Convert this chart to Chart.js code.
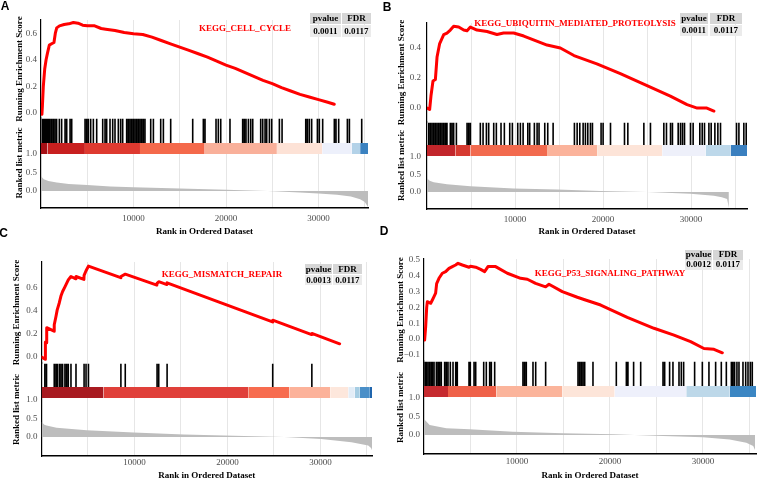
<!DOCTYPE html>
<html>
<head>
    <title>GSEA KEGG enrichment plots</title>
    <script src="https://cdn.jsdelivr.net/npm/chart.js"></script>
    <style>
        body { margin: 0; background: #fff; }
        #page { position: relative; width: 758px; height: 481px; overflow: hidden; background: #fff; }
        .panel { position: absolute; }
        .tag { position: absolute; font: bold 12px "Liberation Sans", Arial, sans-serif; line-height: 1; color: #000; transform: translate(-50%, -50%); }
        .set { position: absolute; font: bold 9px "Liberation Serif", serif; line-height: 1; color: #ff0000; white-space: nowrap; transform: translate(-50%, -50%); }
        .cell { position: absolute; display: flex; align-items: center; justify-content: center; font: bold 9px "Liberation Serif", serif; line-height: 1; color: #000; white-space: nowrap; overflow: hidden; }
    </style>
</head>
<body>
<div id="page"></div>
<script>
    // axis ticks shared by the four plots
    const xGrid = [5000, 10000, 15000, 20000, 25000, 30000, 35000];
    const xLabels = [10000, 20000, 30000];
    const rankTicks = [0, 0.5, 1];

    const geneSets = ['KEGG_CELL_CYCLE', 'KEGG_UBIQUITIN_MEDIATED_PROTEOLYSIS', 'KEGG_MISMATCH_REPAIR', 'KEGG_P53_SIGNALING_PATHWAY'];
    const pvalues = ['0.0011', '0.0011', '0.0013', '0.0012'];
    const fdrs = ['0.0117', '0.0117', '0.0117', '0.0117'];

    // A - cell cycle
    const esTicksA = [0, 0.2, 0.4, 0.6];
    const esA = [[0, 0], [100, -0.01], [150, 0.05], [250, 0.2], [400, 0.33], [550, 0.4], [700, 0.45], [900, 0.51], [1150, 0.52], [1400, 0.53], [1550, 0.6], [1700, 0.64], [2000, 0.655], [2500, 0.665], [3000, 0.67], [3500, 0.68], [4000, 0.675], [4500, 0.66], [5000, 0.655], [5800, 0.655], [6500, 0.635], [7000, 0.63], [8000, 0.62], [9000, 0.605], [10000, 0.595], [11000, 0.59], [12000, 0.57], [13000, 0.545], [14000, 0.52], [15000, 0.495], [16000, 0.47], [17000, 0.445], [18000, 0.42], [19000, 0.39], [20000, 0.36], [21000, 0.335], [22000, 0.305], [23000, 0.275], [24000, 0.245], [25000, 0.22], [26000, 0.19], [27000, 0.165], [28000, 0.14], [29000, 0.12], [30000, 0.1], [31000, 0.08], [31700, 0.065]];
    const hitsA = [140, 250, 360, 470, 610, 720, 860, 970, 1150, 1330, 1510, 1690, 1980, 2230, 2600, 2780, 3140, 3320, 4760, 4940, 5120, 5370, 5660, 6020, 6670, 6920, 7100, 7460, 7750, 8000, 8360, 8610, 8830, 9260, 9440, 9620, 9800, 9980, 10160, 10340, 10520, 10700, 10880, 11060, 11240, 11860, 12150, 12940, 13230, 14020, 16400, 17550, 17730, 18920, 19170, 19430, 20430, 21800, 21980, 22160, 22420, 22670, 22890, 23750, 23970, 24220, 24400, 24690, 24940, 25770, 26060, 28620, 28800, 29010, 29260, 29880, 30090, 30450, 31710, 31890, 32180, 33120, 33340, 34670];
    const metricA = [[0, 0.4], [300, 0.32], [800, 0.27], [1700, 0.23], [3000, 0.19], [5000, 0.16], [7500, 0.12], [10000, 0.1], [15000, 0.065], [20000, 0.035], [24500, 0], [28000, -0.04], [30000, -0.07], [32000, -0.1], [33500, -0.15], [34500, -0.22], [35000, -0.3], [35350, -0.43]];
    const stripeA = [0, 700, 4750, 10700, 17700, 25500, 30400, 33600, 34500, 35350];
    const stripeColorsA = ['#a50f15', '#c8201f', '#de3a30', '#f4694b', '#f9b09a', '#fde2d6', '#edf0fb', '#b3d2e8', '#3b82c0'];

    // B - ubiquitin mediated proteolysis
    const esTicksB = [0, 0.2, 0.4];
    const esB = [[0, 0], [300, -0.01], [450, 0.08], [680, 0.18], [950, 0.19], [1140, 0.34], [1440, 0.43], [1900, 0.49], [2270, 0.5], [2650, 0.52], [3030, 0.545], [3600, 0.54], [4170, 0.52], [4550, 0.515], [4930, 0.54], [5680, 0.52], [6820, 0.51], [7950, 0.49], [8700, 0.5], [9850, 0.5], [11000, 0.48], [12100, 0.455], [13640, 0.42], [15150, 0.4], [16700, 0.35], [19300, 0.295], [21970, 0.23], [25000, 0.15], [27650, 0.08], [29550, 0.023], [30700, 0], [31800, 0], [32600, -0.02]];
    const hitsB = [190, 380, 570, 760, 950, 1140, 1330, 1520, 1710, 1900, 2090, 2270, 2650, 2840, 3030, 3340, 4550, 4740, 4930, 6060, 6370, 6750, 7010, 7580, 7880, 8410, 8790, 9400, 9700, 10310, 10610, 10920, 11450, 11670, 12200, 12510, 12730, 13380, 13720, 14330, 16750, 17060, 17360, 17740, 18000, 18270, 18570, 18800, 19780, 20010, 20850, 22440, 22820, 24640, 25390, 26910, 27210, 27670, 27890, 28540, 28800, 29030, 29260, 29940, 30240, 31000, 31270, 31530, 32030, 32290, 32710, 33050, 33350, 35170, 35440, 36000, 36270];
    const metricB = [[0, 0.39], [300, 0.32], [760, 0.28], [2270, 0.22], [4930, 0.165], [9850, 0.1], [14780, 0.07], [19710, 0.03], [25000, 0], [29940, -0.05], [32600, -0.11], [33500, -0.15], [34100, -0.2], [34300, -0.46]];
    const stripeB = [0, 3220, 4930, 13640, 19330, 26720, 31650, 34490, 36360];
    const stripeColorsB = ['#c2262b', '#d63a31', '#f26a4e', '#fbb39b', '#fde4d8', '#eef0fa', '#bdd8ea', '#3a7fbf'];

    // C - mismatch repair
    const esTicksC = [0, 0.2, 0.4, 0.6];
    const esC = [[0, 0], [400, -0.02], [420, 0.13], [540, 0.125], [560, 0.255], [1350, 0.225], [1370, 0.28], [1550, 0.35], [1690, 0.41], [1910, 0.47], [2090, 0.53], [2270, 0.57], [2520, 0.61], [2700, 0.64], [2880, 0.67], [3170, 0.7], [3690, 0.68], [3710, 0.7], [4560, 0.675], [4580, 0.71], [4790, 0.75], [5050, 0.79], [8520, 0.69], [8540, 0.7], [9010, 0.72], [12410, 0.625], [12430, 0.64], [12610, 0.655], [13490, 0.63], [13510, 0.645], [24850, 0.305], [24870, 0.32], [29060, 0.195], [29080, 0.205], [32070, 0.115]];
    const hitsC = [360, 540, 1370, 1550, 1690, 1910, 2090, 2270, 2520, 2700, 2880, 3170, 3710, 4580, 4790, 5050, 8540, 9010, 12430, 12610, 13510, 24870, 29080];
    const metricC = [[0, 0.41], [300, 0.33], [540, 0.31], [1620, 0.25], [4870, 0.18], [9910, 0.12], [15320, 0.07], [20720, 0.036], [26130, 0], [30090, -0.055], [33340, -0.14], [35140, -0.23], [35450, -0.3], [35550, -0.36]];
    const stripeC = [0, 6670, 22240, 26670, 31070, 33000, 33700, 34240, 35320, 35550];
    const stripeColorsC = ['#a81a20', '#e0403a', '#f76c4f', '#fcb29a', '#fde7dc', '#e3edf7', '#a6cde3', '#4a8fc8', '#1f65ad'];

    // D - p53 signaling pathway
    const esTicksD = [-0.1, 0, 0.1, 0.2, 0.3, 0.4, 0.5];
    const esD = [[0, 0], [70, -0.006], [180, 0.078], [290, 0.2], [360, 0.236], [720, 0.226], [900, 0.247], [1075, 0.268], [1250, 0.29], [1360, 0.35], [1610, 0.384], [1970, 0.416], [2330, 0.426], [2690, 0.447], [3050, 0.458], [3400, 0.468], [3660, 0.479], [4120, 0.468], [4840, 0.454], [5000, 0.46], [5560, 0.454], [6090, 0.44], [6520, 0.426], [6880, 0.458], [7700, 0.458], [8960, 0.416], [10390, 0.384], [11110, 0.378], [12000, 0.352], [13080, 0.33], [13440, 0.346], [14870, 0.3], [16490, 0.264], [17200, 0.25], [19000, 0.215], [21860, 0.137], [24730, 0.068], [26880, 0.025], [28670, -0.017], [30100, -0.06], [31180, -0.065], [32080, -0.087]];
    const hitsD = [110, 250, 430, 610, 790, 900, 1080, 1330, 1510, 1680, 1860, 2220, 2400, 2580, 2830, 3120, 3410, 3580, 4840, 4980, 5380, 5560, 6420, 6700, 7060, 7240, 7600, 10640, 10820, 11000, 11720, 12010, 13080, 16560, 16740, 16920, 17100, 17280, 18170, 20680, 21760, 21930, 22540, 23300, 25700, 25880, 26410, 26770, 27420, 27670, 27920, 29100, 29930, 30640, 31360, 31970, 32510, 33050, 33220, 33400, 33650, 33870, 34300, 34590, 34840, 35090, 35300];
    const metricD = [[0, 0.42], [72, 0.41], [609, 0.27], [2400, 0.18], [4910, 0.155], [9570, 0.09], [14950, 0.045], [20320, 0.018], [25700, -0.027], [30000, -0.064], [32860, -0.12], [34660, -0.21], [35400, -0.3], [35600, -0.41]];
    const stripeD = [0, 2580, 7780, 14870, 20500, 28200, 32860, 35700];
    const stripeColorsD = ['#c62a2f', '#ef6149', '#fbb49b', '#fde5d9', '#eef0fb', '#bdd8e9', '#3b86c3'];

    const serif = 'Liberation Serif';
    const page = document.getElementById('page');

    const panels = [
        { tag: 'A', tagAt: [5, 6], left: 0, top: 0, w: 379, h: 242, padT: 20, padR: 11, yW: 41, xH: 34, esH: 98, rH: 90,
          xMax: 35350, esMin: -0.038, esMax: 0.699, rMin: -0.459, rMax: 1.973, barLo: 1.0, barHi: 1.297, hitHi: 1.95,
          yTitlePad: 14, yTickPad: 4, xTickPad: 5, xTitlePad: 4.5,
          es: esA, hits: hitsA, metric: metricA, stripes: stripeA, stripeColors: stripeColorsA, esTicks: esTicksA,
          k: 0, titleAt: [245, 27.5], cellX: [310, 342], cellW: [31, 29], rowY: [13, 25], rowH: [11, 12] },
        { tag: 'B', tagAt: [387, 6.5], left: 380, top: 0, w: 378, h: 242, padT: 23, padR: 11, yW: 47, xH: 33, esH: 99, rH: 87,
          xMax: 36360, esMin: -0.093, esMax: 0.567, rMin: -0.486, rMax: 2.0, barLo: 1.03, barHi: 1.343, hitHi: 1.98,
          yTitlePad: 16.5, yTickPad: 6, xTickPad: 5.5, xTitlePad: 4.5,
          es: esB, hits: hitsB, metric: metricB, stripes: stripeB, stripeColors: stripeColorsB, esTicks: esTicksB,
          k: 1, titleAt: [575, 23], cellX: [680, 710], cellW: [28, 32], rowY: [13, 25], rowH: [11, 11] },
        { tag: 'C', tagAt: [3.5, 233], left: 0, top: 242, w: 379, h: 239, padT: 20, padR: 7, yW: 41.5, xH: 25, esH: 101, rH: 93,
          xMax: 35550, esMin: -0.052, esMax: 0.826, rMin: -0.514, rMax: 2.0, barLo: 1.054, barHi: 1.351, hitHi: 1.98,
          yTitlePad: 11.5, yTickPad: 4, xTickPad: 1, xTitlePad: 0,
          es: esC, hits: hitsC, metric: metricC, stripes: stripeC, stripeColors: stripeColorsC, esTicks: esTicksC,
          k: 2, titleAt: [222, 274], cellX: [305, 333], cellW: [27, 29], rowY: [264, 275], rowH: [10, 10] },
        { tag: 'D', tagAt: [384, 231], left: 380, top: 242, w: 378, h: 239, padT: 17, padR: 2, yW: 44, xH: 27, esH: 102, rH: 93,
          xMax: 35700, esMin: -0.139, esMax: 0.506, rMin: -0.514, rMax: 2.0, barLo: 1.027, barHi: 1.324, hitHi: 1.98,
          yTitlePad: 15, yTickPad: 4, xTickPad: 2.5, xTitlePad: 0,
          es: esD, hits: hitsD, metric: metricD, stripes: stripeD, stripeColors: stripeColorsD, esTicks: esTicksD,
          k: 3, titleAt: [610, 272.5], cellX: [685, 713], cellW: [27, 30], rowY: [250, 260], rowH: [9.5, 9.5] }
    ];

    function pts(pairs) {
        return pairs.map(d => ({ x: d[0], y: d[1] }));
    }
    function fmt(v) {
        return v < 0 ? '\u2212' + Math.abs(v).toFixed(1) : v.toFixed(1);
    }
    function addText(cls, x, y, text) {
        const d = document.createElement('div');
        d.className = cls;
        d.style.left = x + 'px';
        d.style.top = y + 'px';
        d.textContent = text;
        page.appendChild(d);
    }
    function addCell(x, y, w, h, text, bg) {
        const d = document.createElement('div');
        d.className = 'cell';
        d.style.left = x + 'px';
        d.style.top = y + 'px';
        d.style.width = w + 'px';
        d.style.height = h + 'px';
        d.style.background = bg;
        d.textContent = text;
        page.appendChild(d);
    }

    function drawPanel(p) {
        const box = document.createElement('div');
        box.className = 'panel';
        box.style.left = p.left + 'px';
        box.style.top = p.top + 'px';
        const cv = document.createElement('canvas');
        cv.width = p.w;
        cv.height = p.h;
        box.appendChild(cv);
        page.appendChild(box);

        const datasets = [{
            data: pts(p.es), yAxisID: 'yES', borderColor: '#ff0000', borderWidth: 3,
            borderJoinStyle: 'round', borderCapStyle: 'round', pointRadius: 0, fill: false
        }];
        const hitPts = [];
        p.hits.forEach(r => hitPts.push({ x: r, y: p.barHi }, { x: r, y: p.hitHi }, { x: r, y: null }));
        datasets.push({ data: hitPts, yAxisID: 'yR', borderColor: '#000', borderWidth: 1.6, pointRadius: 0, fill: false, spanGaps: false });
        p.stripeColors.forEach((c, i) => {
            datasets.push({
                data: [{ x: p.stripes[i], y: p.barHi }, { x: p.stripes[i + 1], y: p.barHi }],
                yAxisID: 'yR', borderColor: 'rgba(0,0,0,0)', borderWidth: 0, backgroundColor: c,
                pointRadius: 0, fill: { value: p.barLo }
            });
        });
        datasets.push({
            data: pts(p.metric), yAxisID: 'yR', borderColor: 'rgba(0,0,0,0)', borderWidth: 0,
            backgroundColor: '#bdbdbd', pointRadius: 0, fill: { value: 0 }
        });

        const tickFont = { family: serif, size: 9 };
        const titleFont = { family: serif, size: 9, weight: 'bold' };

        new Chart(cv, {
            type: 'line',
            data: { datasets: datasets },
            options: {
                responsive: false,
                animation: false,
                events: [],
                layout: { autoPadding: false, padding: { left: 0, right: p.padR, top: p.padT, bottom: 0 } },
                plugins: { legend: { display: false }, tooltip: { enabled: false } },
                scales: {
                    x: {
                        type: 'linear', min: 0, max: p.xMax,
                        afterBuildTicks: s => { s.ticks = xGrid.map(v => ({ value: v })); },
                        afterFit: s => { s.height = p.xH; },
                        grid: { color: '#e6e6e6', lineWidth: 1, drawTicks: false },
                        border: { display: true, color: '#000', width: 1.5 },
                        ticks: {
                            padding: p.xTickPad, maxRotation: 0, autoSkip: false, font: tickFont, color: '#4d4d4d',
                            callback: v => xLabels.includes(v) ? String(v) : ''
                        },
                        title: { display: true, text: 'Rank in Ordered Dataset', font: titleFont, color: '#000', padding: { top: 0, bottom: p.xTitlePad } }
                    },
                    yES: {
                        type: 'linear', position: 'left', stack: 'gsea', stackWeight: p.esH, weight: 2,
                        min: p.esMin, max: p.esMax,
                        afterBuildTicks: s => { s.ticks = p.esTicks.map(v => ({ value: v })); },
                        afterFit: s => { s.width = p.yW; },
                        grid: { display: false, drawTicks: false },
                        border: { display: true, color: '#000', width: 1.2 },
                        ticks: { padding: p.yTickPad, autoSkip: false, font: tickFont, color: '#4d4d4d', callback: v => fmt(v) },
                        title: { display: true, text: 'Running Enrichment Score', font: titleFont, color: '#000', padding: { top: p.yTitlePad, bottom: 0 } }
                    },
                    yR: {
                        type: 'linear', position: 'left', stack: 'gsea', stackWeight: p.rH, weight: 1,
                        min: p.rMin, max: p.rMax,
                        afterBuildTicks: s => { s.ticks = rankTicks.map(v => ({ value: v })); },
                        afterFit: s => { s.width = p.yW; },
                        grid: { display: false, drawTicks: false },
                        border: { display: true, color: '#000', width: 1.2 },
                        ticks: { padding: p.yTickPad, autoSkip: false, font: tickFont, color: '#4d4d4d', callback: v => fmt(v) },
                        title: { display: true, text: 'Ranked list metric', font: titleFont, color: '#000', padding: { top: p.yTitlePad, bottom: 0 } }
                    }
                }
            }
        });

        addText('set', p.titleAt[0], p.titleAt[1], geneSets[p.k]);
        addCell(p.cellX[0], p.rowY[0], p.cellW[0], p.rowH[0], 'pvalue', '#d6d6d6');
        addCell(p.cellX[1], p.rowY[0], p.cellW[1], p.rowH[0], 'FDR', '#d6d6d6');
        addCell(p.cellX[0], p.rowY[1], p.cellW[0], p.rowH[1], pvalues[p.k], '#ebebeb');
        addCell(p.cellX[1], p.rowY[1], p.cellW[1], p.rowH[1], fdrs[p.k], '#ebebeb');
        addText('tag', p.tagAt[0], p.tagAt[1], p.tag);
    }

    panels.forEach(drawPanel);
</script>
</body>
</html>
